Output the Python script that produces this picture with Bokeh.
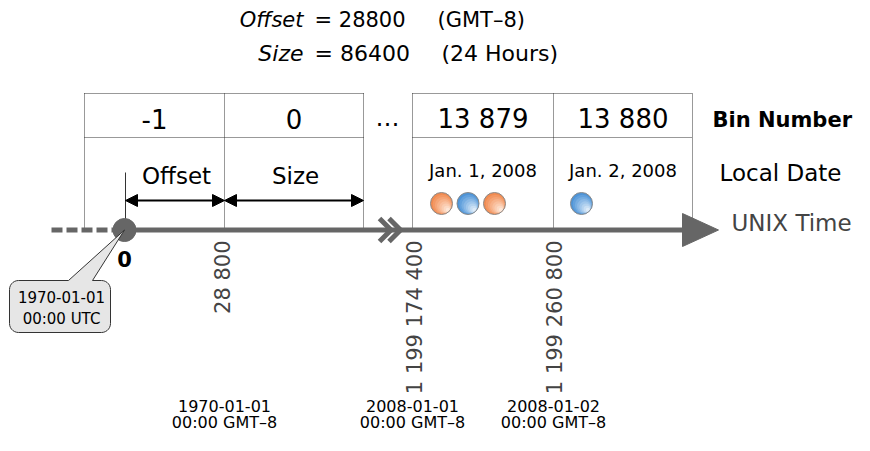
import numpy as np
from bokeh.plotting import figure
from bokeh.models import Range1d, Arrow, NormalHead
from bokeh.core.properties import value
from bokeh.embed import file_html
from bokeh.resources import INLINE

# ---------------- data ----------------
offset_value = "28800"
offset_note = "(GMT\u20138)"
size_value = "86400"
size_note = "(24 Hours)"
bin_numbers = ["-1", "0", "13 879", "13 880"]
boundary_seconds = ["28 800", "1 199 174 400", "1 199 260 800"]
boundary_local = [["1970-01-01", "00:00 GMT\u20138"],
                  ["2008-01-01", "00:00 GMT\u20138"],
                  ["2008-01-02", "00:00 GMT\u20138"]]
local_dates = ["Jan. 1, 2008", "Jan. 2, 2008"]
events_bin_13879 = ["orange", "blue", "orange"]
events_bin_13880 = ["blue"]
epoch_label = ["1970-01-01", "00:00 UTC"]
row_titles = ["Bin Number", "Local Date", "UNIX Time"]

# ---------------- layout (picture pixels) ----------------
FONT = value("DejaVu Sans")
AX_Y = 229.5
ORIGIN_X = 124
left_edges = [84, 224, 363]
right_edges = [412, 553, 692]
TOP_Y, ROW_Y = 93, 137
GREY = "#666666"
grad = {"orange": ("#EE7430", "#FEE6D6"), "blue": ("#2A7ECF", "#DCEBF9")}

p = figure(width=854, height=435, x_range=Range1d(0, 854), y_range=Range1d(435, 0),
           output_backend="svg", toolbar_location=None, min_border=0,
           x_axis_type=None, y_axis_type=None)
p.grid.visible = False
p.outline_line_color = None
p.background_fill_color = "white"
p.border_fill_color = "white"


def txt(xs, ys, texts, size, align="center", baseline="middle", style="normal",
        color="black", angle=0.0):
    p.text(x=xs, y=ys, text=texts, text_font=FONT, text_font_size=f"{size}px",
           text_align=align, text_baseline=baseline, text_font_style=style,
           text_color=color, angle=angle)


def hex2rgb(h):
    h = h.lstrip("#")
    return np.array([int(h[i:i + 2], 16) for i in (0, 2, 4)], dtype=float)


def mix(c0, c1, t):
    c = hex2rgb(c0) * (1 - t) + hex2rgb(c1) * t
    return "#%02x%02x%02x" % tuple(int(round(v)) for v in c)


# title
txt([303], [19], ["Offset"], 21, align="right", style="italic")
txt([314], [19], ["= " + offset_value], 21, align="left")
txt([437], [19], [offset_note], 21, align="left")
txt([303], [53], ["Size"], 22, align="right", style="italic")
txt([314], [53], ["= " + size_value], 22, align="left")
txt([441], [53], [size_note], 22, align="left")

# dotted table
dot = dict(line_color="#333333", line_width=1, line_dash="1 1")
for edges in (left_edges, right_edges):
    for yy in (TOP_Y, ROW_Y):
        p.line([edges[0], edges[-1]], [yy, yy], **dot)
    for xx in edges:
        p.line([xx, xx], [TOP_Y, AX_Y], **dot)

# bin numbers
centers = [(left_edges[0] + left_edges[1]) / 2, (left_edges[1] + left_edges[2]) / 2,
           (right_edges[0] + right_edges[1]) / 2, (right_edges[1] + right_edges[2]) / 2]
txt(centers, [118] * 4, bin_numbers, 26)
txt([387], [117], ["\u2026"], 24)

# row titles
txt([712], [119], [row_titles[0]], 21, align="left", style="bold")
txt([719], [172], [row_titles[1]], 23, align="left")
txt([731], [222], [row_titles[2]], 23, align="left", color="#444444")

# offset / size arrows
p.line([125, 125], [172, AX_Y], line_color="#333333", line_width=1)
for xs, xe in ((125, left_edges[1]), (left_edges[1], left_edges[2])):
    p.add_layout(Arrow(x_start=xs, y_start=200, x_end=xe, y_end=200, line_width=2,
                       line_color="black",
                       start=NormalHead(size=12, fill_color="black", line_color="black"),
                       end=NormalHead(size=12, fill_color="black", line_color="black")))
txt([176], [175], ["Offset"], 23)
txt([295], [175], ["Size"], 23)

# local dates + events (gradient-like fill with stacked circles)
txt([centers[2], centers[3]], [170, 170], local_dates, 18)
ev_x = [441 + 26.5 * i for i in range(len(events_bin_13879))] + \
       [581 + 26.5 * i for i in range(len(events_bin_13880))]
ev_kind = events_bin_13879 + events_bin_13880
EV_Y, R = 203, 11.0
n = 8
for k in range(n):
    t = k / (n - 1)
    rk = R * (1 - 0.82 * t)
    d = (R - rk) * 0.70
    cols = [mix(grad[e][0], grad[e][1], 0.2 + 0.8 * t) for e in ev_kind]
    p.scatter([x + d for x in ev_x], [EV_Y + d] * len(ev_x), size=2 * rk,
              fill_color=cols, line_color=None)
p.scatter(ev_x, [EV_Y] * len(ev_x), size=2 * R, fill_color=None, line_color="#8a8a8a",
          line_width=1)

# axis
p.line([51, 113], [AX_Y, AX_Y], line_width=5, line_color=GREY, line_dash="11 4")
p.line([ORIGIN_X, 684], [AX_Y, AX_Y], line_width=5, line_color=GREY)
p.patch([682, 718, 682], [213, AX_Y, 246], fill_color=GREY, line_color=GREY)
p.multi_line([[379, 390.5, 379], [388.5, 400, 388.5]], [[218, AX_Y, 241], [218, AX_Y, 241]],
             line_width=5, line_color=GREY)
p.scatter([ORIGIN_X], [AX_Y], size=23, fill_color=GREY, line_color=GREY)

# callout
r = 9
L, Rb, T, B = 9, 110, 280, 332


def arc(cx, cy, t0, t1):
    tt = np.linspace(t0, t1, 8)
    return list(cx + r * np.cos(tt)), list(cy + r * np.sin(tt))


xs, ys = arc(L + r, T + r, np.pi, 1.5 * np.pi)
xs += [68, ORIGIN_X, 92]
ys += [T, AX_Y, T]
for (cx, cy, t0, t1) in [(Rb - r, T + r, 1.5 * np.pi, 2 * np.pi),
                         (Rb - r, B - r, 0, 0.5 * np.pi),
                         (L + r, B - r, 0.5 * np.pi, np.pi)]:
    a, b = arc(cx, cy, t0, t1)
    xs += a
    ys += b
p.patch(xs, ys, fill_color="#e6e6e6", line_color="#333333", line_width=1)
txt([61, 61], [296.5, 318.5], epoch_label, 15)

# origin + boundary labels
txt([124], [258], ["0"], 21, style="bold")
txt([222.5, 414.5, 554.5], [240] * 3, boundary_seconds, 21, align="right",
    color="#444444", angle=np.pi / 2)
bx = [left_edges[1], right_edges[0], right_edges[1]]
txt(bx, [405] * 3, [b[0] for b in boundary_local], 16)
txt(bx, [422] * 3, [b[1] for b in boundary_local], 16)

open("out.html", "w").write(file_html(p, INLINE))
